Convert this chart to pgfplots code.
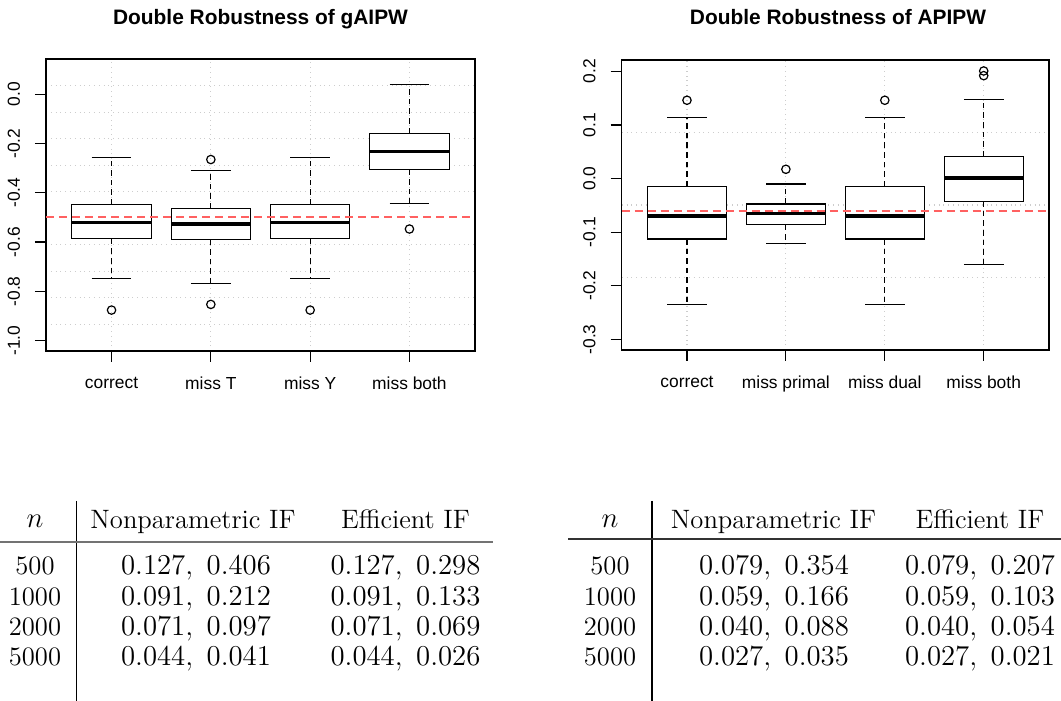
\documentclass[border=0pt]{standalone}
\usepackage{fontspec}
\usepackage{pgfplots}
\pgfplotsset{compat=1.18}
\usepgfplotslibrary{statistics}

\newfontfamily\arial{Liberation Sans}
\newcommand\tabfont{\fontsize{13.3}{16}\selectfont}

\definecolor{gridgray}{RGB}{205,205,205}

\pgfplotsset{
  rbox/.style={
    scale only axis,
    xmin=0.34, xmax=4.66,
    xtick={1,2,3,4},
    axis line style={black, line width=0.6pt},
    tick align=outside,
    xtick pos=bottom, ytick pos=left,
    major tick length=5.5pt,
    minor tick length=0pt,
    every tick/.style={black, line width=0.6pt},
    xmajorgrids, yminorgrids,
    major grid style={dotted, gridgray, line width=0.55pt},
    minor grid style={dotted, gridgray, line width=0.55pt},
    ticklabel style={font=\arial\fontsize{8.7}{10}\selectfont},
    yticklabel style={rotate=90, anchor=south},
    yticklabel shift=4pt,
    xticklabel shift=4pt,
    boxplot/draw direction=y,
    boxplot/box extend=0.8,
    boxplot/whisker extend=0.4,
    boxplot/every box/.style={fill=white, draw=black, line width=0.6pt},
    boxplot/every median/.style={black, line width=1.8pt},
    boxplot/draw/lower whisker/.code={%
      \draw[black, line width=0.6pt, dash pattern=on 2.8pt off 2pt]
        (boxplot box cs:\pgfplotsboxplotvalue{lower quartile},0.5) --
        (boxplot whisker cs:\pgfplotsboxplotvalue{lower whisker},0.5);
      \draw[black, line width=0.6pt]
        (boxplot whisker cs:\pgfplotsboxplotvalue{lower whisker},0) --
        (boxplot whisker cs:\pgfplotsboxplotvalue{lower whisker},1);
    },
    boxplot/draw/upper whisker/.code={%
      \draw[black, line width=0.6pt, dash pattern=on 2.8pt off 2pt]
        (boxplot box cs:\pgfplotsboxplotvalue{upper quartile},0.5) --
        (boxplot whisker cs:\pgfplotsboxplotvalue{upper whisker},0.5);
      \draw[black, line width=0.6pt]
        (boxplot whisker cs:\pgfplotsboxplotvalue{upper whisker},0) --
        (boxplot whisker cs:\pgfplotsboxplotvalue{upper whisker},1);
    },
  },
  rb/.style={black, line width=0.6pt, mark=o, mark size=2.1pt,
    mark options={solid, fill=none, draw=black, line width=0.6pt}},
  truth/.style={draw=red!62, line width=1.05pt, dash pattern=on 4pt off 2.5pt, mark=none, forget plot},
}

\begin{document}
\begin{tikzpicture}[x=0.5pt, y=0.5pt]
\useasboundingbox (0,0) rectangle (1061,701);
\coordinate (LA) at (46,350);
\coordinate (RA) at (621.7,351);

% ---- left panel: gAIPW
\begin{axis}[rbox,
  at={(LA)}, anchor=south west,
  width=214.5pt, height=146pt,
  ymin=-1.042, ymax=0.143,
  ytick={-1,-0.8,-0.6,-0.4,-0.2,0},
  yticklabels={-1.0,-0.8,-0.6,-0.4,-0.2,0.0},
  minor ytick={-0.9343,-0.8265,-0.7188,-0.6111,-0.3956,-0.2879,-0.1802,-0.0725,0.0353},
  xticklabels={correct,miss T,miss Y,miss both},
]
\addplot[rb, boxplot prepared={draw position=1, lower whisker=-0.748, lower quartile=-0.587,
  median=-0.521, upper quartile=-0.448, upper whisker=-0.257}] coordinates {(1,-0.876)};
\addplot[rb, boxplot prepared={draw position=2, lower whisker=-0.767, lower quartile=-0.589,
  median=-0.526, upper quartile=-0.463, upper whisker=-0.310}] coordinates {(2,-0.265) (2,-0.853)};
\addplot[rb, boxplot prepared={draw position=3, lower whisker=-0.748, lower quartile=-0.587,
  median=-0.521, upper quartile=-0.448, upper whisker=-0.257}] coordinates {(3,-0.876)};
\addplot[rb, boxplot prepared={draw position=4, lower whisker=-0.442, lower quartile=-0.306,
  median=-0.233, upper quartile=-0.158, upper whisker=0.041}] coordinates {(4,-0.547)};
\addplot[truth] coordinates {(0.34,-0.5) (4.66,-0.5)};
\end{axis}

% ---- right panel: APIPW
\begin{axis}[rbox,
  at={(RA)}, anchor=south west,
  width=213.65pt, height=145pt,
  ymin=-0.3199, ymax=0.2211,
  ytick={-0.3,-0.2,-0.1,0,0.1,0.2},
  yticklabels={-0.3,-0.2,-0.1,0.0,0.1,0.2},
  minor ytick={-0.1847,-0.0494,0.0858},
  xticklabels={correct,miss primal,miss dual,miss both},
]
\addplot[rb, boxplot prepared={draw position=1, lower whisker=-0.2347, lower quartile=-0.1129,
  median=-0.0699, upper quartile=-0.0146, upper whisker=0.1136}] coordinates {(1,0.146)};
\addplot[rb, boxplot prepared={draw position=2, lower whisker=-0.1215, lower quartile=-0.0861,
  median=-0.0649, upper quartile=-0.0475, upper whisker=-0.0102}] coordinates {(2,0.0172)};
\addplot[rb, boxplot prepared={draw position=3, lower whisker=-0.2347, lower quartile=-0.1129,
  median=-0.0699, upper quartile=-0.0146, upper whisker=0.1136}] coordinates {(3,0.146)};
\addplot[rb, boxplot prepared={draw position=4, lower whisker=-0.1607, lower quartile=-0.0425,
  median=0.0004, upper quartile=0.0414, upper whisker=0.1478}] coordinates {(4,0.1919) (4,0.2006)};
\addplot[truth] coordinates {(0.34,-0.06) (4.66,-0.06)};
\end{axis}

% titles
\node[anchor=base, font=\arial\bfseries\fontsize{10.45}{12}\selectfont] at (260.5,676) {Double Robustness of gAIPW};
\node[anchor=base, font=\arial\bfseries\fontsize{10.45}{12}\selectfont] at (838,676) {Double Robustness of APIPW};

% ---- left table
\draw[black, line width=0.6pt] (76.5,200) -- (76.5,0);
\draw[black!55, line width=1.1pt] (0,159) -- (493,159);
\begin{scope}[every node/.style={anchor=base, font=\tabfont, inner sep=0pt}]
\node at (35,173) {$n$};
\node at (193,172) {Nonparametric IF};
\node at (405.5,172) {Efficient IF};
\node at (35,126) {500};   \node at (196,126) {$0.127,\ 0.406$}; \node at (405.5,126) {$0.127,\ 0.298$};
\node at (35,95)  {1000};  \node at (196,95)  {$0.091,\ 0.212$}; \node at (405.5,95)  {$0.091,\ 0.133$};
\node at (35,65)  {2000};  \node at (196,65)  {$0.071,\ 0.097$}; \node at (405.5,65)  {$0.071,\ 0.069$};
\node at (35,35)  {5000};  \node at (196,35)  {$0.044,\ 0.041$}; \node at (405.5,35)  {$0.044,\ 0.026$};
\end{scope}

% ---- right table
\draw[black, line width=0.6pt] (652,200) -- (652,0);
\draw[black!80, line width=0.7pt] (568,162) -- (1061,162);
\begin{scope}[every node/.style={anchor=base, font=\tabfont, inner sep=0pt}]
\node at (610,173) {$n$};
\node at (773.5,172) {Nonparametric IF};
\node at (980,172) {Efficient IF};
\node at (610,126) {500};   \node at (774,126) {$0.079,\ 0.354$}; \node at (980,126) {$0.079,\ 0.207$};
\node at (610,95)  {1000};  \node at (774,95)  {$0.059,\ 0.166$}; \node at (980,95)  {$0.059,\ 0.103$};
\node at (610,65)  {2000};  \node at (774,65)  {$0.040,\ 0.088$}; \node at (980,65)  {$0.040,\ 0.054$};
\node at (610,35)  {5000};  \node at (774,35)  {$0.027,\ 0.035$}; \node at (980,35)  {$0.027,\ 0.021$};
\end{scope}
\end{tikzpicture}
\end{document}
